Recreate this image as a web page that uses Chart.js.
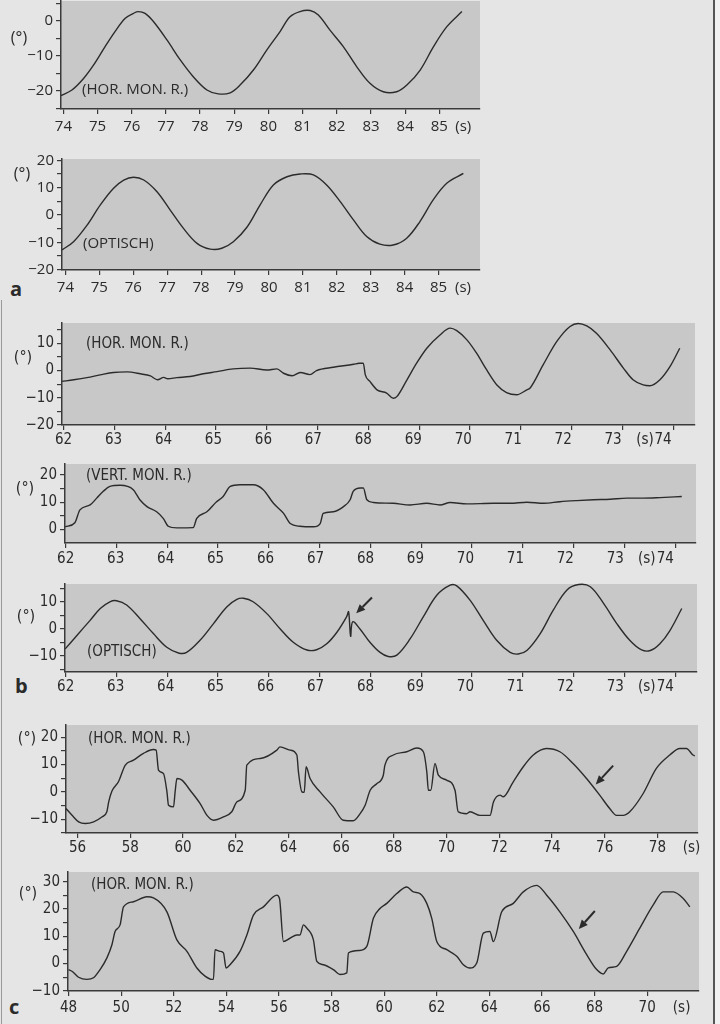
<!DOCTYPE html>
<html>
<head>
<meta charset="utf-8">
<script src="https://cdn.jsdelivr.net/npm/chart.js@4.4.1/dist/chart.umd.min.js"></script>
<style>
html, body { margin: 0; padding: 0; }
body { width: 720px; height: 1024px; background: #e5e5e5; position: relative; overflow: hidden; color: #2b2b2b; font-family: "Open Sans", sans-serif; }
.panel { position: absolute; }
.letter { position: absolute; font-size: 20px; font-weight: bold; line-height: 20px; }
#edge { position: absolute; left: 713px; top: 0; width: 7px; height: 1024px; background: #f1f1f1; border-left: 2px solid #555; }
#leftEdge { position: absolute; left: 1px; top: 300px; width: 1px; height: 724px; background: #9a9a9a; }
</style>
</head>
<body>
<div id="edge"></div>
<div id="leftEdge"></div>
<div class="letter" style="left:10px;top:279px;">a</div>
<div class="letter" style="left:15px;top:676px;">b</div>
<div class="letter" style="left:9px;top:997px;">c</div>
<script>
// panel a, upper: horizontal monitor, right eye (deg over s)
const a1Time = [73.93, 74.25, 74.59, 74.88, 75.22, 75.51, 75.81, 76.05, 76.19, 76.39, 76.64, 77.03, 77.42, 77.80, 78.20, 78.53, 78.88, 79.17, 79.56, 79.95, 80.34, 80.63, 80.92, 81.22, 81.46, 81.80, 82.19, 82.58, 82.97, 83.36, 83.75, 84.05, 84.44, 84.83, 85.22, 85.66];
const a1Deg = [-21.4, -19.8, -16.5, -12.7, -7.4, -3.1, 0.7, 2.1, 2.6, 2.1, -0.3, -5.5, -11.2, -16.0, -19.8, -20.9, -20.6, -18.4, -14.1, -8.4, -3.1, 1.1, 2.6, 2.9, 1.6, -2.7, -7.4, -13.1, -17.9, -20.3, -20.3, -18.4, -14.1, -7.4, -1.7, 2.6];

// panel a, lower: optical target
const a2Time = [73.90, 74.24, 74.64, 75.03, 75.42, 75.72, 76.01, 76.31, 76.70, 77.09, 77.48, 77.88, 78.27, 78.61, 78.95, 79.35, 79.74, 80.13, 80.53, 80.92, 81.31, 81.70, 82.10, 82.49, 82.88, 83.27, 83.66, 84.06, 84.45, 84.84, 85.24, 85.73];
const a2Deg = [-12.8, -9.8, -3.7, 3.7, 9.8, 12.8, 13.8, 12.8, 8.5, 1.8, -4.9, -10.4, -12.5, -12.2, -9.8, -4.5, 3.7, 11.0, 14.0, 15.0, 14.7, 11.0, 4.9, -1.8, -7.9, -10.7, -11.0, -8.5, -2.4, 5.5, 11.6, 15.2];

// panel b
const b1Time = [61.97, 62.2, 62.46, 62.72, 62.98, 63.25, 63.51, 63.71, 63.85, 63.97, 64.05, 64.23, 64.49, 64.75, 65.02, 65.34, 65.67, 66.0, 66.2, 66.33, 66.5, 66.66, 66.85, 66.98, 67.31, 67.71, 67.82, 67.9, 67.94, 68.03, 68.17, 68.36, 68.49, 68.56, 68.76, 68.95, 69.15, 69.41, 69.61, 69.74, 69.94, 70.13, 70.33, 70.53, 70.72, 70.92, 71.12, 71.18, 71.44, 71.71, 71.97, 72.13, 72.3, 72.49, 72.76, 73.02, 73.21, 73.41, 73.54, 73.74, 73.94, 74.13];
const b1Deg = [-4.0, -3.4, -2.6, -1.6, -0.7, -0.5, -1.2, -2.0, -3.4, -2.5, -3.0, -2.6, -2.2, -1.2, -0.4, 0.6, 0.9, 0.2, 0.6, -1.0, -1.9, -0.7, -1.5, 0.0, 1.2, 2.3, 2.7, 2.7, -1.6, -4.0, -7.1, -8.3, -10.2, -9.6, -3.4, 2.7, 8.2, 13.1, 15.6, 14.7, 11.3, 6.4, 0.2, -5.3, -8.1, -8.9, -7.1, -6.5, 2.1, 10.7, 16.2, 17.3, 16.4, 13.7, 7.6, 0.9, -3.4, -5.3, -5.6, -3.4, 1.5, 8.2];

const b2Time = [61.99, 62.18, 62.28, 62.48, 62.61, 62.74, 62.87, 63.07, 63.33, 63.46, 63.6, 63.79, 63.92, 64.02, 64.19, 64.51, 64.58, 64.78, 64.97, 65.1, 65.24, 65.43, 65.69, 65.89, 66.09, 66.29, 66.42, 66.61, 66.88, 67.01, 67.07, 67.27, 67.47, 67.6, 67.66, 67.8, 67.86, 67.93, 68.06, 68.45, 68.78, 69.11, 69.37, 69.57, 69.9, 70.42, 70.75, 71.08, 71.41, 71.73, 72.06, 72.39, 72.72, 73.05, 73.37, 73.7, 74.13];
const b2Deg = [1.0, 2.5, 7.2, 9.0, 11.5, 14.0, 15.8, 16.2, 14.6, 10.9, 8.4, 6.5, 4.1, 1.2, 0.6, 0.7, 4.1, 6.5, 10.2, 12.1, 15.8, 16.4, 16.4, 14.6, 9.6, 5.9, 2.2, 1.2, 1.0, 2.2, 5.9, 6.5, 8.4, 10.9, 14.0, 15.2, 15.2, 10.9, 9.9, 9.6, 9.0, 9.6, 9.0, 9.9, 9.4, 9.6, 9.6, 10.0, 9.6, 10.2, 10.6, 10.9, 11.1, 11.5, 11.5, 11.7, 12.1];

const b3Time = [61.99, 62.22, 62.48, 62.68, 62.87, 63.0, 63.2, 63.46, 63.73, 63.99, 64.22, 64.38, 64.64, 64.91, 65.17, 65.37, 65.5, 65.69, 65.96, 66.22, 66.48, 66.75, 66.94, 67.14, 67.34, 67.53, 67.57, 67.61, 67.65, 67.79, 67.99, 68.19, 68.35, 68.52, 68.78, 69.04, 69.31, 69.57, 69.7, 69.96, 70.22, 70.49, 70.75, 70.91, 71.08, 71.34, 71.6, 71.87, 72.1, 72.33, 72.59, 72.85, 73.11, 73.34, 73.51, 73.7, 73.9, 74.13];
const b3Deg = [-7.5, -2.5, 3.1, 7.5, 10.0, 10.4, 8.8, 3.8, -1.9, -6.9, -9.0, -8.8, -4.4, 1.9, 8.1, 10.9, 11.3, 10.0, 5.6, 0.0, -5.0, -7.9, -7.8, -5.6, -1.3, 4.4, 6.3, -2.8, 2.6, 0.0, -5.0, -8.8, -10.3, -9.8, -3.8, 4.4, 12.5, 16.2, 15.9, 10.6, 3.1, -4.4, -8.8, -9.4, -8.1, -1.9, 6.9, 14.4, 16.4, 15.6, 9.4, 1.9, -4.4, -7.9, -8.1, -5.6, -0.6, 7.5];

// panel c
const c1Time = [55.56, 55.79, 56.04, 56.29, 56.61, 56.92, 57.11, 57.18, 57.3, 57.55, 57.81, 58.12, 58.5, 58.88, 58.98, 59.07, 59.26, 59.39, 59.45, 59.64, 59.7, 59.77, 59.96, 60.27, 60.65, 60.91, 61.16, 61.53, 61.85, 62.04, 62.36, 62.42, 62.93, 63.56, 63.68, 64.06, 64.32, 64.38, 64.51, 64.6, 64.67, 64.82, 65.2, 65.7, 66.08, 66.46, 66.72, 66.91, 67.1, 67.35, 67.6, 67.66, 67.98, 68.49, 68.87, 69.12, 69.25, 69.31, 69.4, 69.56, 69.69, 70.0, 70.32, 70.44, 70.76, 70.89, 71.27, 71.65, 71.78, 72.03, 72.15, 72.53, 72.91, 73.29, 73.79, 74.3, 74.8, 75.31, 75.81, 76.19, 76.45, 76.7, 76.95, 77.46, 77.96, 78.47, 78.85, 79.1, 79.35, 79.42];
const c1Deg = [-6.1, -8.6, -11.0, -11.6, -11.0, -9.2, -7.3, -3.7, 0.2, 3.7, 9.8, 11.6, 14.1, 15.5, 15.3, 8.0, 6.7, 0.0, -4.9, -5.5, 0.0, 4.9, 4.3, 0.6, -4.3, -8.6, -10.4, -9.2, -7.3, -3.7, 0.6, 9.8, 12.2, 15.3, 16.5, 15.3, 13.5, 7.3, 0.0, -0.2, 9.2, 4.9, 0.0, -5.5, -10.4, -10.6, -8.0, -4.9, 0.6, 3.0, 6.1, 9.8, 13.5, 14.7, 16.1, 14.7, 7.3, 0.6, 0.6, 10.4, 6.1, 4.3, 0.6, -7.3, -8.0, -7.3, -8.6, -8.6, -3.7, -1.2, -1.8, 3.7, 9.2, 13.5, 15.9, 14.7, 10.4, 4.9, -1.2, -6.1, -8.6, -8.6, -7.3, -0.6, 8.6, 13.5, 15.9, 15.9, 13.5, 13.2];

const c2Time = [48.0, 48.13, 48.38, 48.7, 48.95, 49.2, 49.46, 49.65, 49.77, 49.96, 50.09, 50.47, 50.98, 51.23, 51.74, 52.12, 52.5, 52.88, 53.19, 53.45, 53.51, 53.57, 53.76, 53.89, 53.99, 54.14, 54.52, 54.78, 55.03, 55.41, 55.92, 56.02, 56.17, 56.42, 56.68, 56.8, 56.93, 57.06, 57.31, 57.44, 57.69, 58.07, 58.32, 58.58, 58.64, 59.06, 59.34, 59.59, 59.84, 60.1, 60.48, 60.86, 61.11, 61.36, 61.62, 61.81, 62.0, 62.38, 62.76, 63.01, 63.26, 63.52, 63.77, 64.02, 64.15, 64.47, 64.91, 65.29, 65.8, 66.18, 66.68, 67.19, 67.7, 68.08, 68.33, 68.52, 68.84, 69.22, 69.72, 70.23, 70.61, 70.99, 71.37, 71.62];
const c2Deg = [-2.2, -2.8, -5.0, -5.8, -5.2, -2.2, 2.1, 6.9, 11.8, 14.2, 20.8, 22.7, 24.5, 24.1, 19.0, 8.7, 4.5, -1.6, -4.6, -5.8, -5.8, 5.1, 4.5, 3.9, -1.6, -0.4, 4.5, 10.5, 17.8, 20.8, 25.1, 23.9, 8.1, 9.3, 10.5, 10.5, 14.2, 13.0, 8.7, 0.8, -0.4, -2.2, -4.0, -3.4, 3.9, 4.8, 6.3, 16.6, 20.2, 22.1, 25.7, 28.1, 26.3, 25.7, 22.1, 16.6, 8.1, 5.1, 2.7, -0.4, -1.6, 0.2, 11.2, 11.8, 8.1, 19.0, 22.1, 26.3, 28.7, 25.1, 19.0, 11.8, 3.3, -2.2, -3.8, -1.6, -1.0, 4.5, 13.0, 21.5, 26.3, 26.3, 23.9, 20.8];

const INK = "#2b2b2b";
const AXIS = "#3a3a3a";
const PLOT_BG = "#c8c8c8";
const FONT_A = '"Open Sans", sans-serif';
const FONT_B = '"Liberation Sans Narrow", "DejaVu Sans Condensed", "Open Sans", sans-serif';

const panels = [
  { t: a1Time, v: a1Deg, L: 61, R: 480, T: 1, B: 109, xMin: 73.93, xMax: 86.19, xStep: 1, xLast: 85, smooth: true,
    yMin: -25.23, yMax: 5.63, fam: FONT_A, size: 15, xlPad: 4, tag: "(HOR. MON. R.)", tagDx: 21, tagY: -19.6,
    degDx: -42, degY: -5.2, unitX: 85.70 },
  { t: a2Time, v: a2Deg, L: 62, R: 480, T: 159, B: 270, xMin: 73.90, xMax: 86.22, xStep: 1, xLast: 85, smooth: true,
    yMin: -20.15, yMax: 20.5, fam: FONT_A, size: 15, xlPad: 4, tag: "(OPTISCH)", tagDx: 21, tagY: -10.7,
    degDx: -40, degY: 14.9, unitX: 85.72 },
  { t: b1Time, v: b1Deg, L: 62, R: 695, T: 323, B: 425, xMin: 61.969, xMax: 74.43, lblMin: 61.968, lblMax: 74.64,
    xStep: 1, xLast: 74, yMin: -20.05, yMax: 17.5, fam: FONT_B, size: 15, xlPad: 1, tag: "(HOR. MON. R.)", tagDx: 24, tagY: 9.8,
    degDx: -39, degY: 4.7, unitX: 73.64 },
  { t: b2Time, v: b2Deg, L: 65, R: 696, T: 464, B: 543, xMin: 61.986, xMax: 74.41, lblMin: 61.986, lblMax: 74.615,
    xStep: 1, xLast: 74, yMin: -4.93, yMax: 24.0, fam: FONT_B, size: 15, xlPad: 2, tag: "(VERT. MON. R.)", tagDx: 21, tagY: 19.7,
    degDx: -40, degY: 14.8, unitX: 73.63 },
  { t: b3Time, v: b3Deg, L: 65, R: 697, T: 584, B: 672, xMin: 61.986, xMax: 74.43, lblMin: 61.986, lblMax: 74.635,
    xStep: 1, xLast: 74, yMin: -16.07, yMax: 16.6, fam: FONT_B, size: 15, xlPad: 1, tag: "(OPTISCH)", tagDx: 22, tagY: -8.7,
    degDx: -39, degY: 4.3, unitX: 73.63, arrow: [68.03, 11.6, 67.72, 5.7], smooth: true },
  { t: c1Time, v: c1Deg, L: 66, R: 698, T: 725, B: 833, xMin: 55.56, xMax: 79.54, xStep: 2, xLast: 78,
    yMin: -15.07, yMax: 24.5, fam: FONT_B, size: 15, xlPad: 1, tag: "(HOR. MON. R.)", tagDx: 22, tagY: 19.4,
    degDx: -39, degY: 19.6, unitX: 79.29, arrow: [76.32, 9.6, 75.66, 2.7] },
  { t: c2Time, v: c2Deg, L: 68, R: 699, T: 872, B: 991, xMin: 47.98, xMax: 71.97, xStep: 2, xLast: 70,
    yMin: -10.05, yMax: 33.6, fam: FONT_B, size: 15, xlPad: 3, tag: "(HOR. MON. R.)", tagDx: 23, tagY: 28.7,
    degDx: -40, degY: 25.7, unitX: 71.31, arrow: [68.01, 19.3, 67.40, 12.7] }
];

// grey plot field, in-plot caption, unit labels and arrows
const panelDeco = {
  id: "panelDeco",
  beforeDraw(chart) {
    const a = chart.chartArea, ctx = chart.ctx;
    ctx.save();
    ctx.fillStyle = PLOT_BG;
    ctx.fillRect(a.left, a.top, a.right - a.left, a.bottom - a.top);
    ctx.restore();
  },
  afterDraw(chart, args, o) {
    const ctx = chart.ctx, a = chart.chartArea;
    const x = chart.scales.x, y = chart.scales.y, xl = chart.scales.xl;
    ctx.save();
    ctx.fillStyle = INK;
    ctx.textBaseline = "middle";
    ctx.font = o.size + "px " + o.fam;
    ctx.textAlign = "left";
    ctx.fillText(o.tag, a.left + o.tagDx, y.getPixelForValue(o.tagY));
    ctx.textAlign = "center";
    ctx.fillText("(s)", xl.getPixelForValue(o.unitX), xl.top + o.xlPad + o.size * 0.6);
    ctx.font = (o.size + 1) + "px " + o.fam;
    ctx.fillText("(\u00B0)", a.left + o.degDx, y.getPixelForValue(o.degY));
    if (o.arrow) {
      const x0 = x.getPixelForValue(o.arrow[0]), y0 = y.getPixelForValue(o.arrow[1]);
      const x1 = x.getPixelForValue(o.arrow[2]), y1 = y.getPixelForValue(o.arrow[3]);
      const ang = Math.atan2(y1 - y0, x1 - x0);
      const head = 9, half = 4;
      const bx = x1 - head * Math.cos(ang), by = y1 - head * Math.sin(ang);
      ctx.strokeStyle = INK;
      ctx.lineWidth = 2;
      ctx.beginPath();
      ctx.moveTo(x0, y0);
      ctx.lineTo(bx, by);
      ctx.stroke();
      ctx.beginPath();
      ctx.moveTo(x1, y1);
      ctx.lineTo(bx + half * Math.sin(ang), by - half * Math.cos(ang));
      ctx.lineTo(bx - half * Math.sin(ang), by + half * Math.cos(ang));
      ctx.closePath();
      ctx.fill();
    }
    ctx.restore();
  }
};

function buildPanel(p) {
  const padL = 60, padR = 24, padT = 10, tickLen = 5, labH = 30;
  const w = p.R - p.L + padL + padR;
  const h = p.B - p.T + padT + tickLen + labH;
  const box = document.createElement("div");
  box.className = "panel";
  box.style.left = (p.L - padL) + "px";
  box.style.top = (p.T - padT) + "px";
  box.style.width = w + "px";
  box.style.height = h + "px";
  const cv = document.createElement("canvas");
  cv.width = w;
  cv.height = h;
  cv.style.width = w + "px";
  cv.style.height = h + "px";
  box.appendChild(cv);
  document.body.appendChild(box);

  const font = { family: p.fam, size: p.size };
  const keepTicks = (s) => { s.ticks = s.ticks.filter((t) => t.value <= p.xLast + 1e-6); };

  const line = {
    data: p.t.map((t, i) => ({ x: t, y: p.v[i] })),
    borderColor: INK,
    borderWidth: 1.4,
    pointRadius: 0,
    clip: 4
  };
  if (p.smooth) {
    line.tension = 0.35;
  } else {
    line.cubicInterpolationMode = "monotone";
  }

  new Chart(cv, {
    type: "line",
    data: { datasets: [line] },
    options: {
      responsive: false,
      animation: false,
      events: [],
      layout: { padding: { left: 0, right: padR, top: padT, bottom: 0 } },
      plugins: {
        legend: { display: false },
        tooltip: { enabled: false },
        panelDeco: p
      },
      scales: {
        x: {
          type: "linear", position: "bottom", min: p.xMin, max: p.xMax, weight: 0,
          ticks: { stepSize: p.xStep, includeBounds: false, autoSkip: false, maxRotation: 0, callback: () => "" },
          grid: { drawOnChartArea: false, drawTicks: true, tickLength: tickLen, color: AXIS, lineWidth: 1.2 },
          border: { display: true, color: AXIS, width: 1.5 },
          afterBuildTicks: keepTicks,
          afterFit(s) { s.height = tickLen; s.paddingLeft = 0; s.paddingRight = 0; }
        },
        xl: {
          type: "linear", position: "bottom", weight: 10,
          min: p.lblMin !== undefined ? p.lblMin : p.xMin,
          max: p.lblMax !== undefined ? p.lblMax : p.xMax,
          ticks: { stepSize: p.xStep, includeBounds: false, autoSkip: false, maxRotation: 0,
                   padding: p.xlPad, font: font, color: INK, callback: (v) => String(v) },
          grid: { display: false, drawTicks: false },
          border: { display: false },
          afterBuildTicks: keepTicks,
          afterFit(s) { s.height = labH; s.paddingLeft = 0; s.paddingRight = 0; }
        },
        y: {
          type: "linear", position: "left", min: p.yMin, max: p.yMax,
          ticks: { stepSize: 5, includeBounds: false, autoSkip: false, padding: 3, font: font, color: INK,
                   callback: (v) => (Math.round(v) % 10 === 0 ? String(Math.round(v)).replace("-", "\u2212") : "") },
          grid: { drawOnChartArea: false, drawTicks: true, tickLength: 5, color: AXIS, lineWidth: 1.2 },
          border: { display: true, color: AXIS, width: 1.5 },
          afterFit(s) { s.width = padL; s.paddingTop = 0; s.paddingBottom = 0; }
        }
      }
    },
    plugins: [panelDeco]
  });
}

panels.forEach(buildPanel);
</script>
</body>
</html>
